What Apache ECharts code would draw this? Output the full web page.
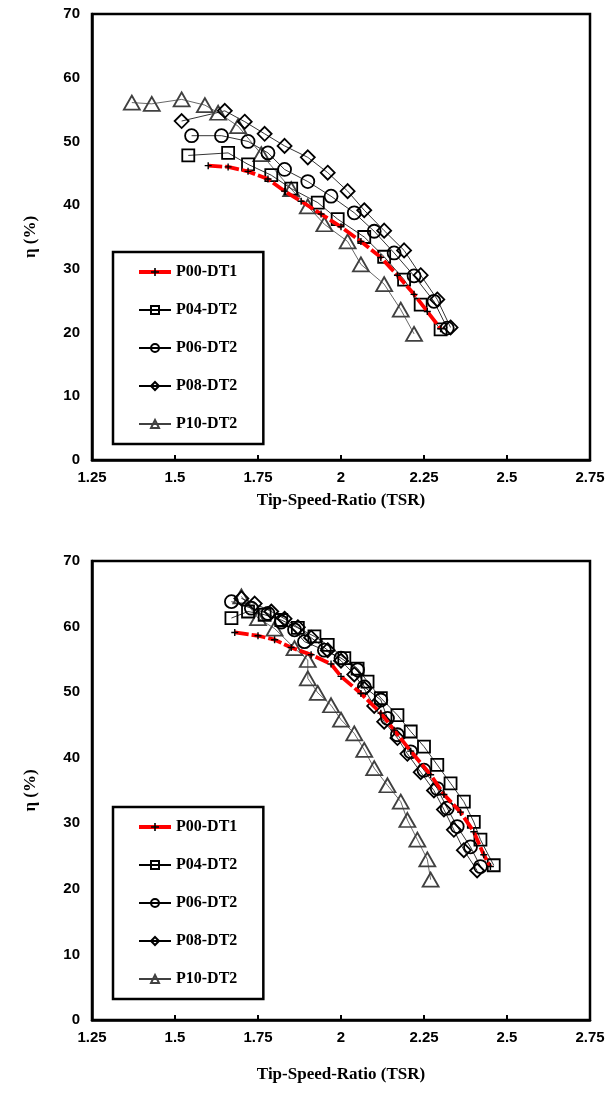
<!DOCTYPE html>
<html lang="en">
<head>
    <meta charset="UTF-8">
    <title>TSR efficiency</title>
    <style>
        html, body { margin: 0; padding: 0; background: #fff; }
        #chart { width: 612px; height: 1099px; }
    </style>
</head>
<body>
    <div id="chart"></div>
    <script src="https://cdn.jsdelivr.net/npm/echarts@6/dist/echarts.min.js"></script>
    <script type="text/javascript">
        // series names (legend order)
        var names = ['P00-DT1', 'P04-DT2', 'P06-DT2', 'P08-DT2', 'P10-DT2'];
        var xTicks = [1.25, 1.5, 1.75, 2, 2.25, 2.5, 2.75];

        // upper chart, [TSR, eta %]
        var topP00 = [[1.60, 46.2], [1.66, 46.0], [1.72, 45.3], [1.78, 44.1], [1.83, 42.2], [1.88, 40.6], [1.94, 38.6],
            [2.00, 36.6], [2.06, 34.3], [2.12, 31.8], [2.17, 29.0], [2.22, 26.0], [2.26, 23.3], [2.30, 20.6]];
        var topP04 = [[1.54, 47.8], [1.66, 48.2], [1.72, 46.4], [1.79, 44.7], [1.85, 42.6], [1.93, 40.4], [1.99, 37.8],
            [2.07, 35.0], [2.13, 31.9], [2.19, 28.3], [2.24, 24.4], [2.30, 20.5]];
        var topP06 = [[1.55, 50.9], [1.64, 50.9], [1.72, 50.0], [1.78, 48.2], [1.83, 45.6], [1.90, 43.7], [1.97, 41.4],
            [2.04, 38.8], [2.10, 35.9], [2.16, 32.5], [2.22, 28.9], [2.28, 24.9], [2.32, 20.7]];
        var topP08 = [[1.52, 53.2], [1.65, 54.8], [1.71, 53.1], [1.77, 51.2], [1.83, 49.3], [1.90, 47.5], [1.96, 45.1],
            [2.02, 42.2], [2.07, 39.2], [2.13, 36.0], [2.19, 32.9], [2.24, 29.0], [2.29, 25.2], [2.33, 20.8]];
        var topP10 = [[1.37, 56.1], [1.43, 55.9], [1.52, 56.6], [1.59, 55.7], [1.63, 54.5], [1.69, 52.4], [1.76, 48.0],
            [1.85, 42.5], [1.90, 39.8], [1.95, 37.0], [2.02, 34.3], [2.06, 30.7], [2.13, 27.6], [2.18, 23.6], [2.22, 19.8]];

        // lower chart, [TSR, eta %]
        var botP00 = [[1.68, 59.1], [1.75, 58.6], [1.80, 58.0], [1.85, 56.8], [1.91, 55.7], [1.97, 54.3], [2.00, 52.4],
            [2.06, 49.8], [2.12, 46.8], [2.16, 44.2], [2.21, 41.0], [2.27, 37.4], [2.31, 34.4], [2.36, 31.7],
            [2.40, 28.7], [2.43, 25.2], [2.45, 23.4]];
        var botP04 = [[1.67, 61.3], [1.72, 62.3], [1.77, 61.8], [1.82, 61.0], [1.87, 59.8], [1.92, 58.5], [1.96, 57.2],
            [2.01, 55.2], [2.05, 53.6], [2.08, 51.6], [2.12, 49.1], [2.17, 46.5], [2.21, 44.0], [2.25, 41.7],
            [2.29, 38.9], [2.33, 36.1], [2.37, 33.3], [2.40, 30.2], [2.42, 27.5], [2.46, 23.6]];
        var botP06 = [[1.67, 63.8], [1.73, 62.8], [1.78, 62.0], [1.82, 60.7], [1.86, 59.5], [1.89, 57.7], [1.95, 56.4],
            [2.00, 55.2], [2.05, 53.4], [2.07, 50.8], [2.12, 48.8], [2.14, 46.0], [2.17, 43.5], [2.21, 40.9],
            [2.25, 38.1], [2.29, 35.3], [2.32, 32.3], [2.35, 29.5], [2.39, 26.4], [2.42, 23.4]];
        var botP08 = [[1.70, 64.3], [1.74, 63.5], [1.79, 62.3], [1.83, 61.2], [1.87, 59.9], [1.91, 58.3], [1.96, 56.4],
            [2.00, 54.8], [2.04, 52.7], [2.07, 50.5], [2.10, 47.9], [2.13, 45.5], [2.17, 43.0], [2.20, 40.6],
            [2.24, 37.8], [2.28, 35.0], [2.31, 32.1], [2.34, 29.0], [2.37, 25.9], [2.41, 22.8]];
        var botP10 = [[1.70, 64.6], [1.75, 61.3], [1.80, 59.7], [1.86, 56.7], [1.90, 54.9], [1.90, 52.1], [1.93, 49.9],
            [1.97, 48.0], [2.00, 45.8], [2.04, 43.7], [2.07, 41.2], [2.10, 38.4], [2.14, 35.8], [2.18, 33.3],
            [2.20, 30.5], [2.23, 27.5], [2.26, 24.5], [2.27, 21.4]];

        var plus = 'path://M4,0H6V4H10V6H6V10H4V6H0V4H4Z';
        var serif = 'Liberation Serif';
        var sans = 'Liberation Sans';

        // marker / line look for each series
        var looks = [
            { symbol: plus, size: 7, fill: '#000', border: '#000', bw: 0, line: '#ff0000', lw: 3.8, dash: [14, 3] },
            { symbol: 'rect', size: 12, fill: 'rgba(0,0,0,0)', border: '#000', bw: 1.8, line: '#000', lw: 0.8, dash: 'solid' },
            { symbol: 'circle', size: 13, fill: 'rgba(0,0,0,0)', border: '#000', bw: 1.8, line: '#000', lw: 0.8, dash: 'solid' },
            { symbol: 'diamond', size: 14, fill: 'rgba(0,0,0,0)', border: '#000', bw: 1.8, line: '#000', lw: 0.8, dash: 'solid' },
            { symbol: 'triangle', size: [16, 14], fill: 'rgba(0,0,0,0)', border: '#404040', bw: 1.8, line: '#404040', lw: 0.8, dash: 'solid' }
        ];

        function mkSeries(idx, data, gi) {
            var lk = looks[idx];
            return {
                name: names[idx],
                type: 'line',
                xAxisIndex: gi,
                yAxisIndex: gi,
                data: data,
                symbol: lk.symbol,
                symbolSize: lk.size,
                showAllSymbol: true,
                z: idx == 0 ? 3 : 2,
                itemStyle: { color: lk.fill, borderColor: lk.border, borderWidth: lk.bw },
                lineStyle: { color: lk.line, width: lk.lw, type: lk.dash },
                emphasis: { disabled: true },
                animation: false
            };
        }

        var grids = [
            { left: 92, top: 14, width: 498, height: 446 },
            { left: 92, top: 561, width: 498, height: 459 }
        ];

        // legend entries; the red one shows a solid stroke like the original
        var legendItems = names.map((n, i) => i == 0 ? { name: n, lineStyle: { type: 'solid', width: 4 } } : { name: n });

        var xAxes = [], yAxes = [], legends = [], series = [];
        var xNameGap = [32, 46];
        var legendTop = [252, 807];
        [0, 1].forEach((gi) => {
            xAxes.push({
                type: 'value', gridIndex: gi, min: 1.25, max: 2.75, interval: 0.25,
                name: 'Tip-Speed-Ratio (TSR)', nameLocation: 'middle', nameGap: xNameGap[gi],
                nameTextStyle: { fontFamily: serif, fontWeight: 'bold', fontSize: 17, color: '#000' },
                axisLine: { onZero: false, lineStyle: { color: '#000', width: 2.5 } },
                axisTick: { inside: true, length: 5, lineStyle: { color: '#000', width: 2 } },
                axisLabel: { margin: 10, fontFamily: sans, fontWeight: 'bold', fontSize: 15, color: '#000',
                    customValues: xTicks },
                splitLine: { show: false }
            });
            yAxes.push({
                type: 'value', gridIndex: gi, min: 0, max: 70, interval: 10,
                name: 'η (%)', nameLocation: 'middle', nameGap: 53,
                nameTextStyle: { fontFamily: serif, fontWeight: 'bold', fontSize: 17, color: '#000' },
                axisLine: { lineStyle: { color: '#000', width: 2.5 } },
                axisTick: { show: false },
                axisLabel: { margin: 12, fontFamily: sans, fontWeight: 'bold', fontSize: 15, color: '#000' },
                splitLine: { show: false }
            });
            legends.push({
                data: legendItems,
                orient: 'vertical',
                left: 113,
                top: legendTop[gi],
                itemWidth: 32,
                itemHeight: 10,
                itemGap: 22,
                padding: [12, 26, 12, 24],
                borderColor: '#000',
                borderWidth: 2.5,
                selectedMode: false,
                textStyle: { fontFamily: serif, fontWeight: 'bold', fontSize: 16, color: '#000' }
            });
        });

        var topData = [topP00, topP04, topP06, topP08, topP10];
        var botData = [botP00, botP04, botP06, botP08, botP10];
        // draw P10 first so the others sit above it
        for (var i = 4; i >= 0; i--) series.push(mkSeries(i, topData[i], 0));
        for (var i = 4; i >= 0; i--) series.push(mkSeries(i, botData[i], 1));

        var myChart = echarts.init(document.getElementById('chart'));
        myChart.setOption({
            animation: false,
            grid: grids.map(g => Object.assign({ show: true, borderColor: '#000', borderWidth: 2.5 }, g)),
            xAxis: xAxes,
            yAxis: yAxes,
            legend: legends,
            series: series
        });
    </script>
</body>
</html>
